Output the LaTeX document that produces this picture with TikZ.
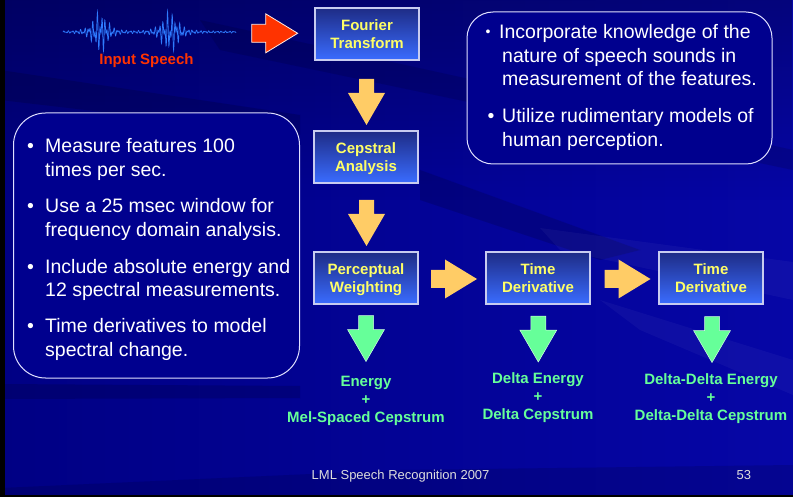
\documentclass[tikz,border=0pt]{standalone}
\usepackage{fontspec}
\setmainfont{Liberation Sans}
\usetikzlibrary{fadings}
\definecolor{bgdark}{HTML}{000084}
\definecolor{bgright}{HTML}{0606A6}
\definecolor{boxtop}{HTML}{1E2C86}
\definecolor{boxbot}{HTML}{3A6CFF}
\definecolor{boxedge}{HTML}{C8CCF0}
\definecolor{ylw}{HTML}{FFFF66}
\definecolor{grn}{HTML}{66FF99}
\definecolor{org}{HTML}{FFCC66}
\definecolor{rd}{HTML}{FF3300}
\definecolor{wavec}{HTML}{2F7BFF}
\definecolor{panelfill}{HTML}{00008E}
\definecolor{foot}{HTML}{DDDDDD}
\begin{document}
\begin{tikzpicture}[x=1pt,y=-1pt,
  procbox/.style={draw=boxedge, line width=1.2pt, top color=boxtop, bottom color=boxbot,
    minimum width=104pt, minimum height=52pt, inner sep=0pt, align=center, text=ylw,
    font=\fontsize{15}{18}\selectfont\bfseries,
    execute at end node={\rule[-3.5pt]{0pt}{37pt}}},
  panel/.style={draw=white!88!blue, line width=1pt, fill=panelfill, rounded corners=#1, inner sep=0pt},
  body/.style={text=white, font=\fontsize{19.5}{24}\selectfont, anchor=base west, inner sep=0pt},
  outtxt/.style={text=grn, font=\fontsize{15}{18}\selectfont\bfseries, align=center, inner sep=0pt},
  foottxt/.style={text=foot, font=\fontsize{13}{15}\selectfont, anchor=base west, inner sep=0pt},
  pics/darrow/.style={code={\path[pic actions] (-7.5,0) -- (7.5,0) -- (7.5,14) -- (18.5,14) -- (0,46) -- (-18.5,14) -- (-7.5,14) -- cycle;}},
  pics/rarrow/.style={code={\path[pic actions] (0,-9) -- (14,-9) -- (14,-19.5) -- (46,0) -- (14,19.5) -- (14,9) -- (0,9) -- cycle;}},
]
\useasboundingbox (0,0) rectangle (793,497);
% background
\shade[left color=bgdark, right color=bgright] (0,0) rectangle (793,497);
\fill[black, opacity=0.25, path fading=south] (0,0) rectangle (793,200);
\fill[black, opacity=0.15] (0,70) -- (300,115) -- (300,135) -- (0,100) -- cycle;
\fill[black, opacity=0.12] (200,20) -- (793,150) -- (793,170) -- (220,50) -- cycle;
\fill[black, opacity=0.15] (420,170) -- (640,250) -- (600,260) -- (420,200) -- cycle;
\fill[white, opacity=0.04] (540,228) -- (793,262) -- (793,300) -- (560,250) -- cycle;
\fill[white, opacity=0.04] (600,300) -- (793,360) -- (793,395) -- (640,330) -- cycle;
\fill[black, opacity=0.14] (0,384) -- (300,386) -- (300,398) -- (0,399) -- cycle;
\fill[black, opacity=0.12] (0,488) -- (400,470) -- (793,465) -- (793,497) -- (0,497) -- cycle;
\fill[black] (0,0) rectangle (5,497);
\fill[black] (0,494.5) rectangle (793,497);

% input speech waveform
\draw[wavec, line width=0.7pt] plot[domain=-87:86, samples=800]
  ({\x+150}, {32 - (1.0 + 21/(1+((\x+50)/12)^2)/(1+((\x+50)/12)^2) + 21/(1+((\x-20)/13)^2)/(1+((\x-20)/13)^2))*sin(\x*118)*cos(\x*31)});
\node[text=rd, font=\fontsize{15}{18}\selectfont\bfseries, anchor=base, inner sep=0pt] (insp) at (146.5,65) {Input Speech};
\pic[fill=rd, draw=white!90!rd, line width=0.8pt] at (251.7,33.3) {rarrow};

% processing boxes
\node[procbox] (ft) at (367,34) {Fourier\\Transform};
\node[procbox] (ca) at (366,157) {Cepstral\\Analysis};
\node[procbox] (pw) at (366,278) {Perceptual\\Weighting};
\node[procbox] (td1) at (538,278) {Time\\Derivative};
\node[procbox] (td2) at (711,278) {Time\\Derivative};

% orange arrows
\pic[fill=org] at (366.5,79) {darrow};
\pic[fill=org] at (366.5,200) {darrow};
\pic[fill=org] at (431,279) {rarrow};
\pic[fill=org] at (604.5,279) {rarrow};

% green arrows
\pic[fill=grn, draw=white!70!grn, line width=0.5pt] at (366,315.5) {darrow};
\pic[fill=grn, draw=white!70!grn, line width=0.5pt] at (538.3,316) {darrow};
\pic[fill=grn, draw=white!70!grn, line width=0.5pt] at (712,316.5) {darrow};

% outputs
\node[outtxt] (o1) at (366,400.5) {Energy\\+\\Mel-Spaced Cepstrum};
\node[outtxt] (o2) at (538,398) {Delta Energy\\+\\Delta Cepstrum};
\node[outtxt] (o3) at (711,398.8) {Delta-Delta Energy\\+\\Delta-Delta Cepstrum};

% left panel
\node[panel=32pt, minimum width=286pt, minimum height=265pt] (lp) at (156.5,245.5) {};
\node[body] (lb1) at (27,153) {•};
\node[body] (l1) at (45,153) {Measure features 100};
\node[body] (l2) at (45,177) {times per sec.};
\node[body] (lb2) at (27,213) {•};
\node[body] (l3) at (45,213) {Use a 25 msec window for};
\node[body] (l4) at (45,237) {frequency domain analysis.};
\node[body] (lb3) at (27,273) {•};
\node[body] (l5) at (45,273) {Include absolute energy and};
\node[body] (l6) at (45,297) {12 spectral measurements.};
\node[body] (lb4) at (27,332) {•};
\node[body] (l7) at (45,332) {Time derivatives to model};
\node[body] (l8) at (45,356) {spectral change.};

% right panel
\node[panel=26pt, minimum width=305pt, minimum height=152pt] (rp) at (619.5,88) {};
\node[body, font=\fontsize{14}{16}\selectfont] (rb1) at (485.5,37) {•};
\node[body] (r1) at (499,39) {Incorporate knowledge of the};
\node[body] (r2) at (502,63) {nature of speech sounds in};
\node[body] (r3) at (502,86) {measurement of the features.};
\node[body] (rb2) at (487.5,123) {•};
\node[body] (r4) at (502,123) {Utilize rudimentary models of};
\node[body] (r5) at (502,147) {human perception.};

% footer
\node[foottxt] (f1) at (311.5,479.3) {LML Speech Recognition 2007};
\node[foottxt] (f2) at (736.5,479.3) {53};
\end{tikzpicture}
\end{document}
